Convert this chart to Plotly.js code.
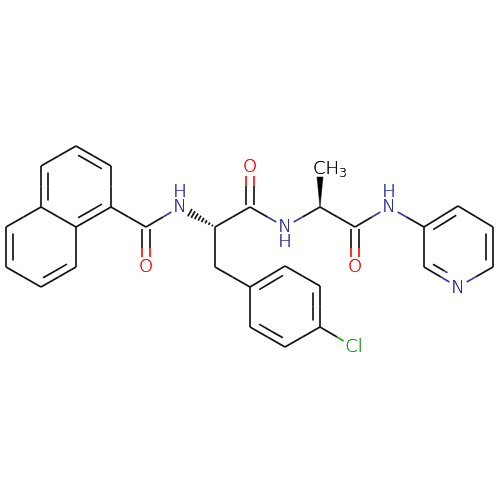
<!DOCTYPE html>
<html><head><meta charset="utf-8">
<script src="https://cdn.plot.ly/plotly-3.0.0.min.js"></script>
<style>html,body{margin:0;padding:0;background:#fff}#c{width:500px;height:500px}#c .main-svg{will-change:transform}</style>
</head><body><div id="c"></div>
<script>
// atom positions
const atomX=[76,111,111,76,41,41,6,6,41,76,146,146,180,215,250,250,215,250,285,320,320,285,250,354,285,320,320,355,355,389,424,458,493,493,458,424];
const atomY=[146,166,207,227,207,166,227,267,287,267,227,267,207,227,207,166,267,287,266,286,327,347,327,347,227,207,167,227,267,207,227,206,227,267,287,267];
const atomKind=['C','C','C','C','C','C','C','C','C','C','C','O','N','C','C','O','C','C','C','C','C','C','C','Cl','N','C','C3','C','O','N','C','C','C','C','N','C'];
const singleBonds=[[1,2],[3,4],[5,0],[4,6],[7,8],[9,3],[2,10],[10,12],[13,14],[14,24],[13,16],[16,17],[18,19],[20,21],[22,17],[20,23],[24,25],[25,27],[27,29],[29,30],[31,32],[33,34],[35,30]];
const ringDoubles=[[0,1,76,186],[2,3,76,186],[4,5,76,186],[6,7,41,247],[8,9,41,247],[17,18,285,307],[19,20,285,307],[21,22,285,307],[30,31,458,247],[32,33,458,247],[34,35,458,247]];
const carbonylDoubles=[[10,11],[14,15],[27,28]];
const hashBond=[13,12];
const wedgeBond=[25,26];
const labelText=['O','O','O','N','H','N','H','N','H','N','Cl','CH<sub>3</sub>'];
const labelX=[146,250,355,180,180,285,285,389,389,458,354,330];
const labelY=[267,167,267,207,192,227,242,207,192,288,347,169];
const labelColor=['#ff0000','#ff0000','#ff0000','#2a2a98','#2a2a98','#2a2a98','#2a2a98','#2a2a98','#2a2a98','#2a2a98','#0f9a0f','#000000'];

const kindColor={C:'#111111',C3:'#111111',O:'#ff0d0d',N:'#3a3aa0',Cl:'#1f9f1f'};
const gap={C:0,C3:0,O:10,N:10,Cl:12};
const segs={};
function add(col,x1,y1,x2,y2){const s=segs[col]||(segs[col]={x:[],y:[]});s.x.push(x1,x2,null);s.y.push(y1,y2,null);}
function half(x1,y1,k1,x2,y2,k2){
  const L=Math.hypot(x2-x1,y2-y1),ux=(x2-x1)/L,uy=(y2-y1)/L,mx=(x1+x2)/2,my=(y1+y2)/2;
  add(kindColor[k1],x1+ux*gap[k1],y1+uy*gap[k1],mx,my);
  add(kindColor[k2],mx,my,x2-ux*gap[k2],y2-uy*gap[k2]);
}
singleBonds.forEach(([a,b])=>half(atomX[a],atomY[a],atomKind[a],atomX[b],atomY[b],atomKind[b]));
ringDoubles.forEach(([a,b,cx,cy])=>{
  const xa=atomX[a],ya=atomY[a],xb=atomX[b],yb=atomY[b];
  half(xa,ya,atomKind[a],xb,yb,atomKind[b]);
  const L=Math.hypot(xb-xa,yb-ya),ux=(xb-xa)/L,uy=(yb-ya)/L;
  let nx=-uy,ny=ux; if((cx-xa)*nx+(cy-ya)*ny<0){nx=-nx;ny=-ny;}
  const t=L*0.16;
  half(xa+ux*t+nx*7,ya+uy*t+ny*7,atomKind[a],xb-ux*t+nx*7,yb-uy*t+ny*7,atomKind[b]);
});
carbonylDoubles.forEach(([a,b])=>{
  [-4,4].forEach(o=>half(atomX[a]+o,atomY[a]-(atomY[b]>atomY[a]?-2:2),'C',atomX[b]+o,atomY[b],atomKind[b]));
});
// hashed bond
(function(){
  const [a,b]=hashBond,xa=atomX[a],ya=atomY[a],xb=atomX[b],yb=atomY[b];
  const L=Math.hypot(xb-xa,yb-ya),ux=(xb-xa)/L,uy=(yb-ya)/L;
  for(let i=0;i<8;i++){
    const d=3+i*3.7,w=0.5+d*0.13,px=xa+ux*d,py=ya+uy*d;
    add('#111111',px-uy*w,py+ux*w,px+uy*w,py-ux*w);
  }
})();
const traces=Object.keys(segs).map(c=>({type:'scatter',mode:'lines',x:segs[c].x,y:segs[c].y,line:{color:c,width:1.7},hoverinfo:'skip',connectgaps:false}));
// wedge
(function(){
  const [a,b]=wedgeBond,xa=atomX[a],ya=atomY[a],xb=atomX[b],yb=atomY[b]+10;
  traces.push({type:'scatter',mode:'lines',x:[xa,xb-3,xb+3,xa],y:[ya,yb,yb,ya],fill:'toself',fillcolor:'#000',line:{color:'#000',width:0.5},hoverinfo:'skip'});
})();
traces.push({type:'scatter',mode:'text',x:labelX,y:labelY,text:labelText,textposition:'middle center',textfont:{family:'DejaVu Sans',weight:200,size:18,color:labelColor,shadow:labelColor.map(c=>'0 0 0.5px '+c)},hoverinfo:'skip'});
Plotly.newPlot('c',traces,{
  width:500,height:500,margin:{l:0,r:0,t:0,b:0},paper_bgcolor:'#fff',plot_bgcolor:'#fff',showlegend:false,hovermode:false,
  xaxis:{range:[0,500],visible:false,fixedrange:true},
  yaxis:{range:[500,0],visible:false,fixedrange:true}
},{displayModeBar:false,staticPlot:true});
</script></body></html>
